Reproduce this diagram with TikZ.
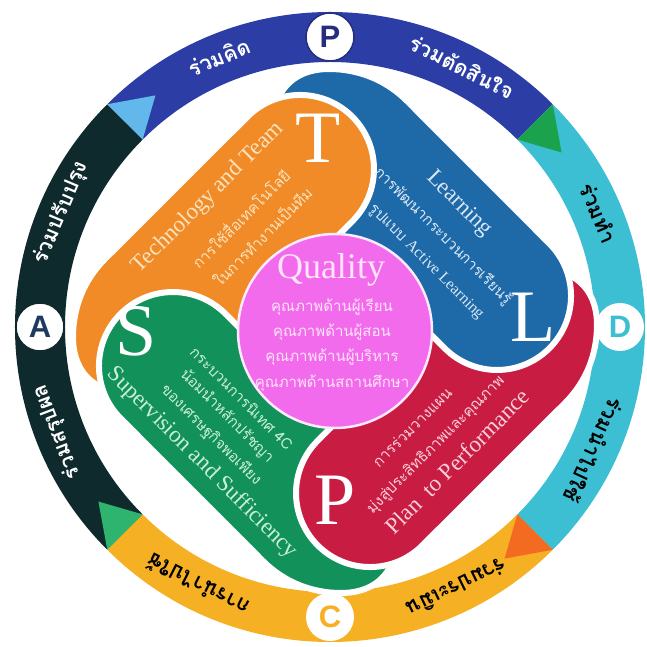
\documentclass[tikz,border=0pt]{standalone}
\usepackage{fontspec}
\setmainfont{Liberation Serif}
\newfontfamily\thaifnt[Script=Thai]{Loma}
\newfontfamily\ringletter{Liberation Sans}

\definecolor{ringblue}{HTML}{2C3EA5}
\definecolor{ringcyan}{HTML}{3DBFD3}
\definecolor{ringyellow}{HTML}{F6B024}
\definecolor{ringdark}{HTML}{0F2A2D}
\definecolor{tipblue}{HTML}{62B8EA}
\definecolor{tipgreen}{HTML}{1BA24C}
\definecolor{tiporange}{HTML}{F26B21}
\definecolor{tipmint}{HTML}{2EB46E}
\definecolor{orangeT}{HTML}{F08B28}
\definecolor{blueL}{HTML}{1E69A8}
\definecolor{redP}{HTML}{C91C43}
\definecolor{greenS}{HTML}{13915A}
\definecolor{pinkQ}{HTML}{F26BEC}
\definecolor{creamT}{HTML}{FCE3BE}
\definecolor{paleL}{HTML}{D8E8F8}
\definecolor{paleS}{HTML}{C8F0D8}
\definecolor{paleP}{HTML}{FAD0DA}
\definecolor{paleQ}{HTML}{FFE4FA}
\definecolor{navyA}{HTML}{1E3A5F}
\definecolor{navyP}{HTML}{262D7C}

% contorno di un petalo (quello della T), gli altri ruotati
\newcommand{\petalpath}{(17.3,109.7) arc[start angle=-45,end angle=135,radius=74pt]
  -- (-230,72) .. controls (-252,50) and (-262,22) .. (-262,-6)
  .. controls (-262,-30) and (-252,-48) .. (-232.8,-56.6)
  -- (-162,-35) -- (-140,-48) -- cycle}

\tikzset{
  ringseg/.style={line width=50pt},
  petal/.style={draw=white, line width=6pt, line join=round},
  ringtext/.style={font=\thaifnt\bfseries\fontsize{21}{24}\selectfont},
  pdca/.style={circle, fill=white, minimum size=48pt, inner sep=0pt,
    font=\ringletter\bfseries\fontsize{31}{31}\selectfont},
  bigletter/.style={text=white, font=\fontsize{74}{74}\selectfont},
  petaltitle/.style={font=\fontsize{23}{23}\selectfont},
  thailine/.style={font=\thaifnt\fontsize{15}{17}\selectfont},
}

\begin{document}
\begin{tikzpicture}[x=1pt,y=1pt]
\useasboundingbox (-330,-320) rectangle (316,327);
\fill[white] (-330,-320) rectangle (316,327);
%anello
\draw[ringseg, ringblue] (45:290) arc[start angle=45,end angle=135,radius=290pt];
\draw[ringseg, ringdark] (135:290) arc[start angle=135,end angle=225,radius=290pt];
\draw[ringseg, ringyellow] (225:290) arc[start angle=225,end angle=315,radius=290pt];
\draw[ringseg, ringcyan] (-45:290) arc[start angle=-45,end angle=45,radius=290pt];
%frecce
\fill[tipblue] (135:265) -- (135:315) -- (127:290) -- cycle;
\fill[tipgreen] (45:265) -- (45:315) -- (37:290) -- cycle;
\fill[tiporange] (-45:265) -- (-45:315) -- (-53:290) -- cycle;
\fill[tipmint] (225:265) -- (225:315) -- (217:290) -- cycle;
%lettere PDCA
\node[pdca, draw=navyP, line width=1.5pt, text=navyP] (lp) at (90:290) {P};
\node[pdca, text=ringcyan] (ld) at (0:290) {D};
\node[pdca, text=ringyellow] (lc) at (270:290) {C};
\node[pdca, draw=ringdark, line width=1.5pt, text=navyA] (la) at (180:290) {A};
%testi anello
\node[ringtext, white, rotate=22.4] (r1) at (112.4:292) {ร่วมคิด};
\node[ringtext, white, rotate=-26.9] (r2) at (63.1:292) {ร่วมตัดสินใจ};
\node[ringtext, black, rotate=-67] (r3) at (23:292) {ร่วมทำ};
\node[ringtext, black, rotate=-115] (r4) at (-25:292) {ร่วมนำไปใช้};
\node[ringtext, black, rotate=-154] (r5) at (-64:290) {ร่วมประเมิน};
\node[ringtext, black, rotate=153] (r6) at (243:290) {การนำไปใช้};
\node[ringtext, white, rotate=111] (r7) at (201:292) {ร่วมสรุปผล};
\node[ringtext, white, rotate=67] (r8) at (157:292) {ร่วมปรับปรุง};

\begin{scope}[shift={(5,-4)}]
%petali
\draw[petal, fill=orangeT] \petalpath;
\begin{scope}[rotate=90]
  \draw[petal, fill=greenS] \petalpath;
\end{scope}
\begin{scope}[rotate=180]
  \draw[petal, fill=redP] \petalpath;
\end{scope}
\begin{scope}[rotate=-90]
  \draw[petal, fill=blueL] \petalpath;
\end{scope}
% la T di nuovo sopra la coda blu
\begin{scope}
  \clip (-140,60) rectangle (110,300);
  \draw[petal, fill=orangeT] \petalpath;
\end{scope}
%centro
\draw[white!85!pinkQ, line width=2.5pt, fill=pinkQ] (0,0) circle[radius=97pt];
\node[text=paleQ, font=\fontsize{36}{36}\selectfont] (q) at (-4,61) {Quality};
\node[thailine, text=paleQ] (q1) at (-3,24) {คุณภาพด้านผู้เรียน};
\node[thailine, text=paleQ] (q2) at (-3,-1) {คุณภาพด้านผู้สอน};
\node[thailine, text=paleQ] (q3) at (-3,-26) {คุณภาพด้านผู้บริหาร};
\node[thailine, text=paleQ] (q4) at (-3,-52) {คุณภาพด้านสถานศึกษา};
%lettere grandi
\node[bigletter] (bigT) at (-17,193) {T};
\node[bigletter] (bigL) at (198,14) {L};
\node[bigletter] (bigP) at (0,-169) {P};
\node[bigletter] (bigS) at (-199,0) {S};
%testi T
\node[petaltitle, text=creamT, rotate=45] (tt) at (-127,133) {Technology and Team};
\node[thailine, text=creamT, rotate=45] (tt1) at (-95,113) {การใช้สื่อเทคโนโลยี};
\node[thailine, text=creamT, rotate=45] (tt2) at (-73,95) {ในการทำงานเป็นทีม};
%testi L
\node[petaltitle, text=paleL, rotate=-45] (lt) at (124,127) {Learning};
\node[thailine, text=paleL, rotate=-45] (lt1) at (108,95) {การพัฒนากระบวนการเรียนรู้};
\node[thailine, text=paleL, rotate=-45] (lt2) at (91,69) {รูปแบบ {\rmfamily\fontsize{16}{17}\selectfont Active Learning}};
%testi S
\node[thailine, text=paleS, rotate=-45] (st1) at (-93,-67) {กระบวนการนิเทศ 4C};
\node[thailine, text=paleS, rotate=-45] (st2) at (-108,-85) {น้อมนำหลักปรัชญา};
\node[thailine, text=paleS, rotate=-45] (st3) at (-124,-104) {ของเศรษฐกิจพอเพียง};
\node[petaltitle, text=paleS, rotate=-45] (st) at (-133,-132) {Supervision and Sufficiency};
%testi P
\node[thailine, text=paleP, rotate=45] (pt1) at (77,-96) {การร่วมวางแผน};
\node[thailine, text=paleP, rotate=45] (pt2) at (101,-114) {มุ่งสู่ประสิทธิภาพและคุณภาพ};
\node[petaltitle, text=paleP, rotate=45] (pt) at (122,-130) {Plan\enspace to Performance};
\end{scope}
\end{tikzpicture}
\end{document}
